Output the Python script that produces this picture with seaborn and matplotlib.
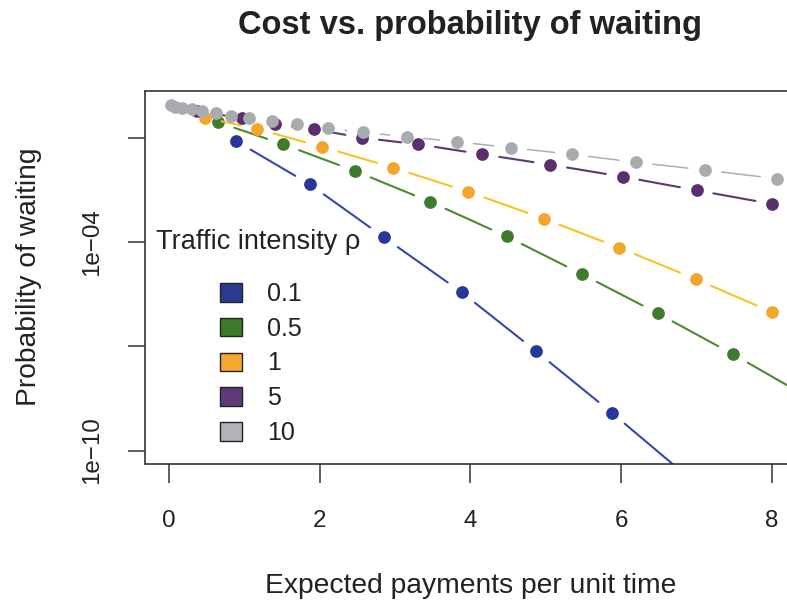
import numpy as np
import pandas as pd
import matplotlib
matplotlib.use("Agg")
import matplotlib.pyplot as plt
from matplotlib.patches import Patch
from matplotlib.ticker import NullLocator
import seaborn as sns

# ---------------- data ----------------
rho_labels = ["0.1", "0.5", "1", "5", "10"]

x_rho01 = [0.889, 1.871, 2.853, 3.883, 4.876, 5.874, 6.872]
y_rho01 = [8.36e-2, 4.67e-3, 1.40e-4, 3.65e-6, 7.18e-8, 1.24e-9, 1.85e-11]

x_rho05 = [0.654, 1.516, 2.468, 3.463, 4.480, 5.475, 6.484, 7.486, 8.497]
y_rho05 = [2.89e-1, 6.71e-2, 1.143e-2, 1.49e-3, 1.49e-4, 1.23e-5, 9.06e-7, 5.96e-8, 3.28e-9]

x_rho1 = [0.478, 1.171, 2.026, 2.976, 3.971, 4.970, 5.974, 6.988, 8.004]
y_rho1 = [3.93e-1, 1.85e-1, 5.73e-2, 1.422e-2, 2.89e-3, 4.85e-4, 7.03e-5, 8.81e-6, 9.68e-7]

x_rho5 = [0.367, 0.965, 1.406, 1.928, 2.563, 3.307, 4.159, 5.060, 6.019, 7.001, 8.004]
y_rho5 = [6.12e-1, 3.77e-1, 2.53e-1, 1.82e-1, 1.033e-1, 6.71e-2, 3.46e-2, 1.73e-2,
          7.82e-3, 3.17e-3, 1.28e-3]

x_rho10 = [0.027, 0.080, 0.168, 0.301, 0.434, 0.624, 0.819, 1.065, 1.363, 1.694, 2.113,
           2.580, 3.153, 3.816, 4.533, 5.342, 6.195, 7.111, 8.070]
y_rho10 = [9.12e-1, 8.15e-1, 7.62e-1, 6.98e-1, 6.12e-1, 5.25e-1, 4.48e-1, 3.77e-1, 3.15e-1,
           2.53e-1, 1.94e-1, 1.47e-1, 1.11e-1, 7.98e-2, 5.36e-2, 3.46e-2, 2.03e-2, 1.22e-2,
           6.85e-3]

x_ticks = [0, 2, 4, 6, 8]
y_ticks = [1e-1, 1e-4, 1e-7, 1e-10]
y_ticklabels = ["", "1e\u221204", "", "1e\u221210"]

series_x = [x_rho01, x_rho05, x_rho1, x_rho5, x_rho10]
series_y = [y_rho01, y_rho05, y_rho1, y_rho5, y_rho10]

point_colors = ["#28389a", "#3e7b2c", "#f4a62c", "#5b2f6e", "#a8abaf"]
line_colors = ["#3447b2", "#4b8a30", "#f5c524", "#5f3872", "#aab0b5"]
line_widths = [1.5, 1.5, 1.5, 1.5, 1.1]
legend_colors = ["#2b3990", "#3f7a2a", "#f4a92e", "#5f3a78", "#b0b3b8"]

# ---------------- style ----------------
sns.set_style("ticks")
plt.rcParams["font.family"] = ["Liberation Sans", "DejaVu Sans"]
TXT = "#222222"

W, H = 787, 604
fig = plt.figure(figsize=(W / 100, H / 100), dpi=100)
L, R, T, B = 145, 796, 91, 463.5
ax = fig.add_axes([L / W, 1 - B / H, (R - L) / W, (B - T) / H])
ax.set_yscale("log")
xlim = (-0.318, 8.32)
ylim = (10 ** -10.372, 10 ** 0.363)
ax.set_xlim(*xlim)
ax.set_ylim(*ylim)

# ---------------- lines with gaps around points (R type="b") ----------------
GAP = 17.0  # pixels
trans = ax.transData
inv = trans.inverted()
for si, (xs, ys) in enumerate(zip(series_x, series_y)):
    P = trans.transform(np.column_stack([xs, ys]))
    recs = []
    for i in range(len(xs) - 1):
        a, b = P[i], P[i + 1]
        d = b - a
        dist = np.hypot(d[0], d[1])
        if dist <= 2 * GAP:
            continue
        u = d / dist
        ends = inv.transform(np.vstack([a + u * GAP, b - u * GAP]))
        recs.append({"seg": i, "x": ends[0, 0], "y": ends[0, 1], "o": 0})
        recs.append({"seg": i, "x": ends[1, 0], "y": ends[1, 1], "o": 1})
    seg_df = pd.DataFrame(recs)
    sns.lineplot(data=seg_df, x="x", y="y", units="seg", estimator=None, sort=False,
                 color=line_colors[si], linewidth=line_widths[si], ax=ax,
                 legend=False, zorder=2 + 2 * si)
    pts = pd.DataFrame({"x": xs, "y": ys})
    sns.scatterplot(data=pts, x="x", y="y", color=point_colors[si], s=84,
                    linewidth=0, ax=ax, legend=False, zorder=3 + 2 * si)

ax.set_xlim(*xlim)
ax.set_ylim(*ylim)

# ---------------- axes / ticks ----------------
ax.set_xticks(x_ticks)
ax.set_xticklabels([str(t) for t in x_ticks])
ax.set_yticks(y_ticks)
ax.set_yticklabels(y_ticklabels, rotation=90, va="center")
ax.yaxis.set_minor_locator(NullLocator())
ax.tick_params(axis="x", length=13.4, width=1.1, pad=20, labelsize=17.4,
               colors="#333333", labelcolor=TXT)
ax.tick_params(axis="y", length=12, width=1.1, pad=18, labelsize=17.4,
               colors="#333333", labelcolor=TXT)
for sp in ax.spines.values():
    sp.set_linewidth(1.2)
    sp.set_color("#333333")
    sp.set_visible(True)

ax.set_xlabel("Expected payments per unit time", fontsize=20.3, color=TXT, labelpad=29.5)
ax.set_ylabel("Probability of waiting", fontsize=20.3, color=TXT, labelpad=28)
ax.set_title("Cost vs. probability of waiting", fontsize=23.5, fontweight="bold",
             color=TXT, pad=41)

# ---------------- legend ----------------
ax.text((258 - L) / (R - L), (B - 242) / (B - T), "Traffic intensity \u03c1",
        transform=ax.transAxes, ha="center", va="center", fontsize=19.5, color=TXT)
handles = [Patch(facecolor=c, edgecolor="#222222", linewidth=1.0) for c in legend_colors]
ax.legend(handles, rho_labels, loc="upper left",
          bbox_to_anchor=((220 - L) / (R - L), (B - 282) / (B - T)),
          frameon=False, fontsize=18, handlelength=0.88, handleheight=0.76,
          handletextpad=1.0, labelspacing=0.43, borderpad=0, borderaxespad=0,
          labelcolor=TXT)

fig.savefig("out.png", dpi=100)
